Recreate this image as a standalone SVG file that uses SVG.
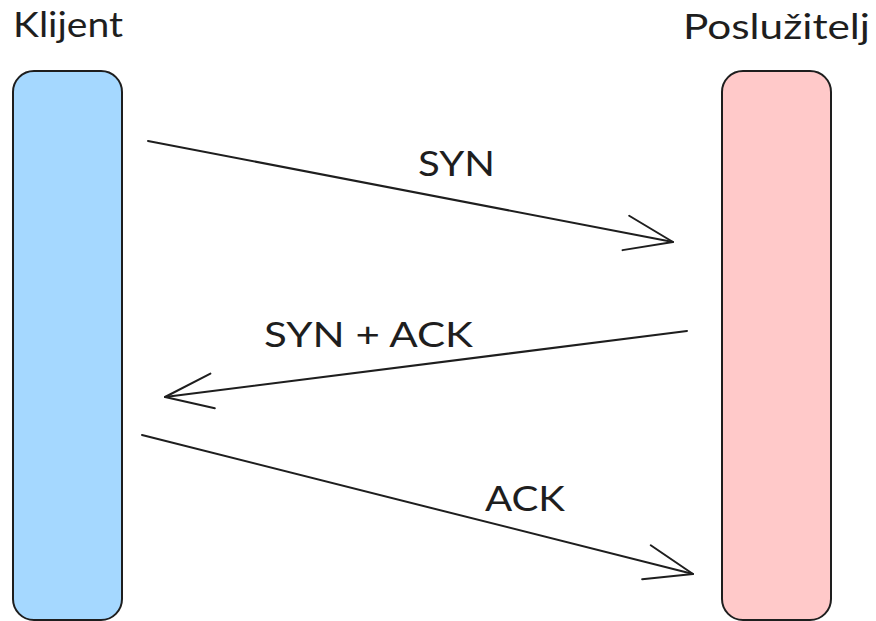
<svg xmlns="http://www.w3.org/2000/svg" width="876" height="621" viewBox="0 0 876 621">
  <style>
    .label { font-family: Lato, "Noto Sans", "Liberation Sans", sans-serif; font-size: 35px; fill: #1e1e1e; }
    .lane { stroke: #1e1e1e; stroke-width: 2; }
    .msg { fill: none; stroke: #1e1e1e; stroke-width: 2; stroke-linecap: round; }
  </style>
  <defs>
    <marker id="open-arrow" markerUnits="userSpaceOnUse" viewBox="-54 -22 58 44" markerWidth="58" markerHeight="44" refX="0" refY="0" orient="auto" overflow="visible">
      <path d="M -48 -17.5 L 0 0 L -48 17.5" fill="none" stroke="#1e1e1e" stroke-width="2" stroke-linecap="round" stroke-linejoin="round"/>
    </marker>
  </defs>
  <rect width="876" height="621" fill="#ffffff"/>

  <g id="klijent">
    <rect class="lane" x="13" y="71" width="109" height="549" rx="21" fill="#a5d8ff"/>
    <text class="label" x="13" y="37" textLength="110" lengthAdjust="spacingAndGlyphs">Klijent</text>
  </g>

  <g id="posluzitelj">
    <rect class="lane" x="722" y="71" width="109" height="549" rx="21" fill="#ffc9c9"/>
    <text class="label" x="683" y="39" textLength="187" lengthAdjust="spacingAndGlyphs">Poslužitelj</text>
  </g>

  <g id="connectors">
    <g id="syn">
      <line class="msg" x1="148" y1="141" x2="673" y2="242" marker-end="url(#open-arrow)"/>
      <text class="label" x="418" y="176" textLength="77" lengthAdjust="spacingAndGlyphs">SYN</text>
    </g>
    <g id="syn-ack">
      <line class="msg" x1="687" y1="331" x2="165" y2="397" marker-end="url(#open-arrow)"/>
      <text class="label" x="264" y="347" textLength="209" lengthAdjust="spacingAndGlyphs">SYN + ACK</text>
    </g>
    <g id="ack">
      <line class="msg" x1="142" y1="435" x2="693" y2="574" marker-end="url(#open-arrow)"/>
      <text class="label" x="485" y="511" textLength="80" lengthAdjust="spacingAndGlyphs">ACK</text>
    </g>
  </g>
</svg>
